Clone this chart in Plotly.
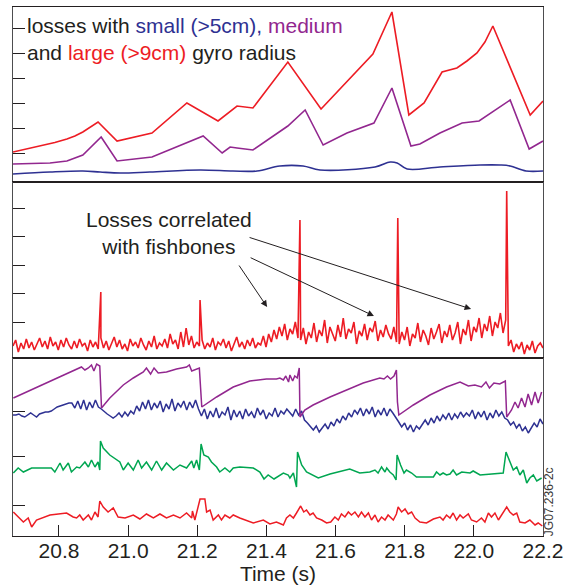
import numpy as np
import plotly.graph_objects as go
from plotly.subplots import make_subplots

# ---------------- data ----------------
T0, T1 = 20.667, 22.2
x_ticks = [20.8, 21.0, 21.2, 21.4, 21.6, 21.8, 22.0, 22.2]
x_ticklabels = ["20.8", "21.0", "21.2", "21.4", "21.6", "21.8", "22.0", "22.2"]

# top panel: losses by gyro radius (a.u.)
top_red_t = [20.667, 20.707, 20.745, 20.788, 20.823, 20.846, 20.869, 20.890, 20.913, 20.968,
             21.069, 21.170, 21.217, 21.260, 21.315, 21.361, 21.462, 21.558, 21.708, 21.763,
             21.812, 21.856, 21.908, 21.951, 21.980, 22.009, 22.032, 22.055, 22.163, 22.200]
top_red = [30, 33, 36, 39.5, 43, 46, 50, 55, 60, 41,
           49, 79, 70, 61, 76, 74, 120, 73, 128, 170,
           67, 79, 110, 114, 121, 129, 140, 156, 67, 81]

top_purple_t = [20.667, 20.774, 20.823, 20.869, 20.922, 20.968, 21.069, 21.217, 21.272, 21.295,
                21.315, 21.361, 21.462, 21.512, 21.564, 21.633, 21.711, 21.763, 21.818, 21.844,
                21.902, 21.966, 22.015, 22.105, 22.160, 22.200]
top_purple = [18, 19, 21, 27, 45, 21, 25, 46, 29, 35,
              34, 32, 56, 72, 37, 49, 59, 94, 36, 38,
              49, 59, 61, 82, 33, 41]

top_blue_t = [20.667, 20.774, 20.869, 20.919, 20.977, 21.063, 21.208, 21.303, 21.373, 21.439,
              21.506, 21.555, 21.714, 21.758, 21.778, 21.807, 21.902, 22.018, 22.076, 22.105,
              22.151, 22.200]
top_blue = [8, 10, 11, 10, 9, 10, 12, 11, 11, 16,
            16, 12, 15, 20, 19, 13, 15, 17, 17, 16,
            11, 11]

# middle panel: loss signal (a.u.), evenly sampled background + fishbone spikes
mid_base = [12, 18, 6, 15, 9, 19, 10, 16, 8, 14, 20, 11, 17, 9, 21, 12, 16, 8, 18, 11,
            20, 13, 9, 17, 10, 19, 12, 15, 7, 18, 11, 16, 9, 20,
            10, 17, 8, 15, 21, 11, 18, 9, 14, 7, 19, 12, 16, 10, 20, 13, 8, 17, 11, 22,
            9, 15, 12, 19, 10, 24, 14, 18, 9, 26, 11, 30, 13, 22, 10, 16, 12,
            18, 9, 15, 11, 20, 8, 16, 13, 19, 10, 17, 7, 14, 21, 11, 16, 9, 18, 12, 20,
            10, 15, 13, 22, 11,
            24, 16, 28, 19, 31, 22, 34, 18, 29, 24, 36, 20,
            18, 30, 14, 26, 20, 35, 16, 28, 22, 38, 15, 31, 24, 17, 33, 21, 40, 19, 29, 25,
            36, 14, 27, 22, 34, 18, 30, 26, 37, 17, 28, 21, 33, 24, 19, 31, 16,
            14, 26, 18, 31, 12, 24, 20, 35, 16, 28, 22, 13, 30, 19, 26, 34, 15, 27, 21, 33,
            18, 25, 36, 14, 29, 23, 38, 17, 31, 26, 40, 20, 34, 27, 42, 22, 36, 30, 45, 25, 38,
            12, 18, 6, 14, 9, 16, 4, 13, 8, 17, 5, 12, 15, 10]
spike_t = [20.921, 21.208, 21.497, 21.780, 22.095]
spike_h = [66, 58, 138, 140, 167]

# bottom panel: four diagnostic traces (a.u.)
p3_purple_t = [20.668, 20.764, 20.822, 20.865, 20.875, 20.885, 20.894, 20.901, 20.909, 20.918,
               20.923, 20.947, 20.986, 21.015, 21.044, 21.053, 21.065, 21.075, 21.087, 21.111,
               21.140, 21.169, 21.177, 21.184, 21.206, 21.213, 21.256, 21.304, 21.352, 21.400,
               21.429, 21.439, 21.449, 21.456, 21.464, 21.468, 21.476, 21.482, 21.489, 21.495,
               21.497, 21.511, 21.535, 21.584, 21.632, 21.680, 21.728, 21.740, 21.750, 21.759,
               21.769, 21.776, 21.779, 21.783, 21.825, 21.873, 21.921, 21.960, 21.984, 22.003,
               22.022, 22.035, 22.045, 22.058, 22.075, 22.091, 22.095, 22.109, 22.119, 22.128,
               22.138, 22.148, 22.157, 22.167, 22.177, 22.186, 22.196]
p3_purple = [138, 153, 162, 169, 166, 168, 171, 165, 172, 170,
             128, 138, 151, 158, 164, 168, 162, 168, 163, 164,
             167, 169, 171, 165, 168, 129, 139, 149, 155, 157,
             157, 158, 156, 160, 154, 161, 155, 160, 158, 168,
             119, 126, 131, 139, 146, 153, 158, 157, 160, 157,
             160, 166, 134, 121, 131, 141, 149, 154, 150, 151,
             149, 154, 148, 153, 152, 155, 119, 126, 134, 128,
             138, 129, 142, 131, 144, 133, 144]

p3_blue = [121, 121, 122, 120, 119, 121, 123, 121, 119, 122, 123, 124, 124,
           125, 127, 129, 130, 131, 132, 133, 133,
           128, 135, 127, 136, 126, 134, 128, 136, 129,
           127, 124, 122, 120, 118, 120,
           123, 119, 124, 120, 125, 122,
           130, 125, 134, 127, 136, 126, 133, 128, 135, 124, 132, 127, 137, 125, 133, 129,
           135, 126, 134, 128, 136, 127,
           120, 127, 117, 125, 119, 128, 118, 124, 121, 129, 116, 126, 119, 125, 117, 127,
           120, 124, 118, 128, 121, 126, 117, 123, 120, 128, 119, 125, 122, 127,
           124, 120, 127, 121, 125, 116, 113, 110,
           106, 110, 104,
           108, 112, 107, 114, 110, 117, 113, 120, 116, 123, 119, 126, 122,
           128, 120, 127, 122, 129, 119, 126, 121, 128, 120, 127, 123, 119,
           114, 109, 113, 106, 111, 104, 110, 107,
           112, 116, 111, 118, 113, 120, 115, 121, 117, 123, 116, 122, 118, 124, 119, 123,
           120, 126, 117, 124, 119, 125, 116, 123, 118, 126, 120, 124, 118,
           116, 111, 114, 108, 112, 105, 109, 103, 108,
           113, 109, 117, 112]

p3_green_t = [20.668, 20.682, 20.697, 20.721, 20.778, 20.788, 20.803, 20.812, 20.827, 20.836,
              20.851, 20.860, 20.875, 20.885, 20.894, 20.904, 20.913, 20.918, 20.920, 20.928,
              20.947, 20.976, 20.986, 21.000, 21.015, 21.029, 21.039, 21.053, 21.068, 21.082,
              21.097, 21.111, 21.131, 21.150, 21.169, 21.184, 21.190, 21.198, 21.206, 21.211,
              21.219, 21.232, 21.241, 21.256, 21.265, 21.280, 21.294, 21.304, 21.323, 21.362,
              21.381, 21.393, 21.405, 21.422, 21.449, 21.463, 21.468, 21.478, 21.487, 21.490,
              21.502, 21.516, 21.550, 21.584, 21.641, 21.670, 21.699, 21.714, 21.723, 21.733,
              21.743, 21.748, 21.757, 21.767, 21.775, 21.778, 21.788, 21.798, 21.805, 21.820,
              21.834, 21.883, 21.892, 21.902, 21.911, 21.921, 21.931, 21.940, 21.950, 21.965,
              21.989, 21.998, 22.018, 22.056, 22.085, 22.093, 22.104, 22.114, 22.124, 22.133,
              22.143, 22.153, 22.162, 22.172, 22.182, 22.196]
p3_green = [63, 68, 64, 68, 68, 64, 73, 66, 73, 64,
            69, 68, 74, 69, 76, 69, 74, 66, 95, 88,
            81, 74, 66, 73, 66, 76, 68, 74, 66, 75,
            66, 73, 66, 71, 68, 75, 68, 76, 66, 92,
            81, 79, 74, 69, 64, 68, 64, 68, 69, 68,
            64, 57, 61, 57, 63, 61, 58, 63, 49, 84,
            71, 64, 58, 62, 67, 63, 64, 66, 63, 69,
            64, 68, 64, 61, 56, 81, 71, 63, 66, 63,
            59, 59, 64, 61, 63, 61, 62, 66, 61, 64,
            63, 65, 61, 62, 63, 84, 74, 66, 69, 61,
            66, 53, 58, 61, 55, 58]

p3_red_t = [20.668, 20.697, 20.711, 20.721, 20.735, 20.774, 20.822, 20.841, 20.851, 20.860,
            20.870, 20.885, 20.894, 20.904, 20.913, 20.918, 20.928, 20.942, 20.957, 20.971,
            20.991, 21.015, 21.034, 21.053, 21.073, 21.092, 21.111, 21.131, 21.150, 21.169,
            21.184, 21.186, 21.193, 21.208, 21.222, 21.227, 21.237, 21.246, 21.261, 21.270,
            21.280, 21.294, 21.304, 21.323, 21.362, 21.391, 21.410, 21.429, 21.449, 21.458,
            21.468, 21.478, 21.487, 21.499, 21.508, 21.516, 21.526, 21.535, 21.545, 21.560,
            21.574, 21.586, 21.598, 21.608, 21.617, 21.627, 21.637, 21.646, 21.656, 21.666,
            21.675, 21.685, 21.695, 21.704, 21.714, 21.723, 21.733, 21.743, 21.752, 21.767,
            21.776, 21.781, 21.791, 21.801, 21.810, 21.820, 21.830, 21.844, 21.863, 21.883,
            21.902, 21.911, 21.921, 21.931, 21.940, 21.950, 21.960, 21.969, 21.984, 21.993,
            22.008, 22.022, 22.032, 22.042, 22.051, 22.061, 22.071, 22.083, 22.095, 22.104,
            22.114, 22.124, 22.133, 22.148, 22.162, 22.177, 22.186, 22.198]
p3_red = [24, 14, 18, 9, 16, 21, 23, 19, 18, 21,
          16, 21, 16, 24, 19, 35, 29, 24, 28, 19,
          18, 21, 17, 22, 18, 22, 18, 21, 18, 23,
          18, 25, 16, 37, 37, 24, 26, 16, 21, 16,
          21, 18, 21, 18, 13, 16, 12, 14, 11, 18,
          21, 18, 23, 30, 24, 26, 21, 23, 18, 16,
          13, 14, 19, 16, 22, 19, 24, 21, 24, 19,
          24, 19, 23, 16, 21, 14, 19, 16, 21, 16,
          22, 29, 24, 27, 22, 24, 18, 14, 13, 17,
          19, 16, 21, 18, 23, 16, 21, 18, 22, 16,
          14, 18, 14, 23, 19, 23, 16, 22, 29, 24,
          21, 23, 14, 13, 16, 11, 13, 10]

# ---------------- colours / styles ----------------
RED = "#ed1c24"
PURPLE = "#92278f"
BLUE = "#2e3192"
GREEN = "#00a651"
INK = "#231f20"
FONT = "Liberation Sans, Arial, Helvetica, sans-serif"


def pair(t, v):
    n = min(len(t), len(v))
    return list(t[:n]), list(v[:n])


fig = make_subplots(rows=3, cols=1, vertical_spacing=0, row_heights=[175, 176, 178])

# top panel
for t, v, c, shape in [(top_red_t, top_red, RED, "linear"),
                       (top_purple_t, top_purple, PURPLE, "linear"),
                       (top_blue_t, top_blue, BLUE, "spline")]:
    tt, vv = pair(t, v)
    fig.add_trace(go.Scatter(x=tt, y=vv, mode="lines", line=dict(color=c, width=1.6, shape=shape),
                             showlegend=False, hoverinfo="skip"), row=1, col=1)

# middle panel
base_t = np.linspace(T0, T1, len(mid_base))
all_t = np.concatenate([base_t, np.array(spike_t)])
all_h = np.concatenate([np.array(mid_base, dtype=float), np.array(spike_h, dtype=float)])
order = np.argsort(all_t)
fig.add_trace(go.Scatter(x=all_t[order], y=all_h[order], mode="lines",
                         line=dict(color=RED, width=1.6), showlegend=False, hoverinfo="skip"),
              row=2, col=1)

# bottom panel
blue_t = np.linspace(T0, T1, len(p3_blue))
for t, v, c in [(p3_red_t, p3_red, RED),
                (p3_green_t, p3_green, GREEN),
                (list(blue_t), p3_blue, BLUE),
                (p3_purple_t, p3_purple, PURPLE)]:
    tt, vv = pair(t, v)
    fig.add_trace(go.Scatter(x=tt, y=vv, mode="lines", line=dict(color=c, width=1.5),
                             showlegend=False, hoverinfo="skip"), row=3, col=1)

# axes
y_ranges = [[0, 175], [0, 176], [0, 178]]
y_ticks = [[29, 54, 79, 104, 129, 154], [36, 64.5, 93, 121.5, 150], [31, 80, 125]]
for i in range(3):
    fig.update_xaxes(row=i + 1, col=1, range=[T0, T1], showline=True, linecolor=INK,
                     linewidth=1.3, mirror=True, showgrid=False, zeroline=False,
                     automargin=False,
                     showticklabels=(i == 2), ticks="inside" if i == 2 else "",
                     tickvals=x_ticks, ticktext=x_ticklabels, ticklen=11, tickwidth=1.1,
                     tickcolor=INK, tickfont=dict(family=FONT, size=21, color=INK))
    fig.update_yaxes(row=i + 1, col=1, range=y_ranges[i], showline=True, linecolor="#4d4d4f",
                     linewidth=1.3, mirror=True, showgrid=False, zeroline=False,
                     automargin=False,
                     showticklabels=False, ticks="inside", tickvals=y_ticks[i], ticklen=12,
                     tickwidth=1.1, tickcolor=INK)

fig.update_xaxes(row=3, col=1, ticklabelstandoff=-4,
                 title=dict(text="Time (s)", font=dict(family=FONT, size=21, color=INK),
                            standoff=4))

# text
fig.add_annotation(xref="x", yref="y", x=20.703, y=143.5, xanchor="left", yanchor="middle",
                   align="left", showarrow=False,
                   font=dict(family=FONT, size=21, color=INK),
                   text=("losses with <span style='color:%s'>small (&gt;5cm),</span> "
                         "<span style='color:%s'>medium</span><br>"
                         "and <span style='color:%s'>large (&gt;9cm)</span> gyro radius")
                   % (BLUE, PURPLE, RED))

fig.add_annotation(xref="x2", yref="y2", x=21.118, y=125, xanchor="center", yanchor="middle",
                   align="center", showarrow=False,
                   font=dict(family=FONT, size=21, color=INK),
                   text="Losses correlated<br>with fishbones")

arrow_heads = [(21.402, 51), (21.711, 42), (21.992, 49)]
arrow_tails = [(21.318, 94), (21.350, 101), (21.347, 121)]
for (hx, hy), (tx, ty) in zip(arrow_heads, arrow_tails):
    fig.add_annotation(xref="x2", yref="y2", axref="x2", ayref="y2", x=hx, y=hy, ax=tx, ay=ty,
                       text="", showarrow=True, arrowhead=2, arrowsize=1.3, arrowwidth=1,
                       arrowcolor=INK, standoff=0, startstandoff=0)

fig.add_annotation(xref="paper", yref="paper", x=1.0, y=0.064, xanchor="left", yanchor="middle",
                   xshift=-3, textangle=-90, showarrow=False,
                   font=dict(family=FONT, size=12, color="#3a3a3a"), text="JG07.236-2c")

fig.update_layout(width=571, height=585, margin=dict(l=13, r=28, t=7, b=49, autoexpand=False),
                  paper_bgcolor="white", plot_bgcolor="white",
                  font=dict(family=FONT, color=INK))

fig.write_html("out.html")
